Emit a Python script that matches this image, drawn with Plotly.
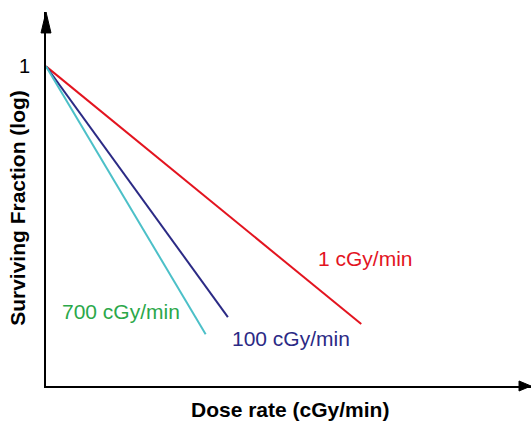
import plotly.graph_objects as go

# Schematic survival curves: log surviving fraction falls linearly with dose,
# steeper at higher dose rates.
dose_start = 0.0
series_names = ["1 cGy/min", "100 cGy/min", "700 cGy/min"]
dose_end = [7.8, 4.5, 3.95]
sf_start = 1.0
sf_end = [0.0244, 0.0270, 0.0211]
line_colors = ["#e3141f", "#2b2a85", "#4cc0c8"]
label_colors = ["#e3141f", "#2b2a85", "#2ba84a"]
label_pos = [(0.658, 0.342), (0.505, 0.128), (0.155, 0.198)]

FONT = "Liberation Sans, Arial, Helvetica, sans-serif"

fig = go.Figure()
for name, xe, ye, col in zip(series_names, dose_end, sf_end, line_colors):
    fig.add_trace(go.Scatter(
        x=[dose_start, xe], y=[sf_start, ye], mode="lines", name=name,
        line=dict(color=col, width=2), showlegend=False, hoverinfo="skip",
    ))

annotations = []
for name, (px, py), col in zip(series_names, label_pos, label_colors):
    annotations.append(dict(
        text=name, x=px, y=py, xref="paper", yref="paper", showarrow=False,
        xanchor="center", yanchor="middle", font=dict(family=FONT, size=21, color=col),
    ))
annotations.append(dict(
    text="<b>Dose rate (cGy/min)</b>", x=0.504, y=-0.062, xref="paper", yref="paper",
    showarrow=False, xanchor="center", yanchor="middle",
    font=dict(family=FONT, size=21, color="black"),
))
annotations.append(dict(
    text="<b>Surviving Fraction (log)</b>", x=-0.058, y=0.476, xref="paper", yref="paper",
    showarrow=False, xanchor="center", yanchor="middle", textangle=-90,
    font=dict(family=FONT, size=21, color="black"),
))

# Arrowheads at the ends of both axes
shapes = [
    dict(type="path", xref="paper", yref="paper",
         path="M -0.0103,0.944 L 0,1 L 0.0103,0.944 Z",
         fillcolor="black", line=dict(color="black", width=1)),
    dict(type="path", xref="paper", yref="paper",
         path="M 0.9753,0.0134 L 1,0 L 0.9753,-0.0134 Z",
         fillcolor="black", line=dict(color="black", width=1)),
]

fig.update_layout(
    width=532, height=421,
    margin=dict(l=46, r=1, t=12, b=35),
    paper_bgcolor="white", plot_bgcolor="white",
    annotations=annotations, shapes=shapes,
    xaxis=dict(range=[0, 12], showline=True, linewidth=2, linecolor="black",
               showgrid=False, zeroline=False, showticklabels=False, ticks=""),
    yaxis=dict(type="log", range=[-2, 0.34], showline=True, linewidth=2,
               linecolor="black", showgrid=False, zeroline=False,
               tickvals=[1], ticktext=["1"], ticks="", ticklabelstandoff=10,
               tickfont=dict(family=FONT, size=20, color="black")),
)

fig.write_html("out.html")
